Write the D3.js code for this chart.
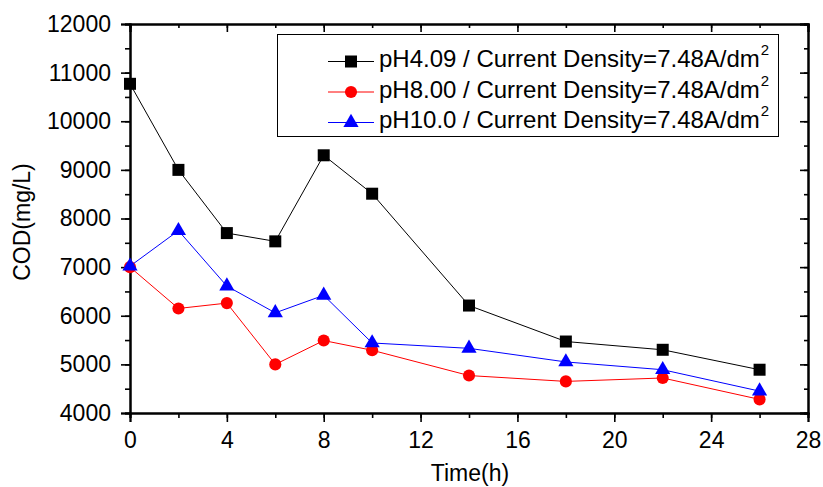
<!DOCTYPE html>
<html><head><meta charset="utf-8">
<script src="https://cdn.jsdelivr.net/npm/d3@7"></script>
<style>body{margin:0;background:#fff;} text{font-family:"Liberation Sans",Arial,sans-serif;}</style>
</head><body><svg id="c" width="823" height="487"></svg>
<script>
const time = [0, 2, 4, 6, 8, 10, 14, 18, 22, 26];
const codPH409 = [10770, 9000, 7700, 7530, 9300, 8510, 6210, 5470, 5300, 4890];
const codPH800 = [7000, 6150, 6260, 5000, 5490, 5290, 4770, 4650, 4720, 4280];
const codPH100 = [7020, 7750, 6610, 6060, 6420, 5440, 5330, 5050, 4890, 4450];
const seriesNames = ["pH4.09 / Current Density=7.48A/dm", "pH8.00 / Current Density=7.48A/dm", "pH10.0 / Current Density=7.48A/dm"];
const xTicks = [0, 4, 8, 12, 16, 20, 24, 28];
const yTicks = [4000, 5000, 6000, 7000, 8000, 9000, 10000, 11000, 12000];

const svg = d3.select("#c");
const x = d3.scaleLinear().domain([0, 28]).range([130, 808]);
const y = d3.scaleLinear().domain([4000, 12000]).range([413, 24]);
const FS = 23;
const LFS = 24;

const series = [
  {name: seriesNames[0], vals: codPH409, color: "#000000", shape: d3.symbolSquare, size: 144},
  {name: seriesNames[1], vals: codPH800, color: "#ff0000", shape: d3.symbolCircle, size: 115},
  {name: seriesNames[2], vals: codPH100, color: "#0000ff", shape: d3.symbolTriangle, size: 100}
];

function styleAxis(g){
  g.select(".domain").attr("stroke","#000").attr("stroke-width",2);
  g.selectAll(".tick line").attr("stroke","#000").attr("stroke-width",1.6);
  g.selectAll("text").attr("font-size",FS).attr("fill","#000").style("font-family","'Liberation Sans',Arial,sans-serif");
}
const xMinor = d3.range(0, 29, 2);
const yMinor = d3.range(4000, 12001, 500);

// minor ticks
svg.append("g").attr("transform","translate(0,413)").call(d3.axisBottom(x).tickValues(xMinor).tickSize(5).tickFormat("")).call(styleAxis);
svg.append("g").attr("transform","translate(130,0)").call(d3.axisLeft(y).tickValues(yMinor).tickSize(5).tickFormat("")).call(styleAxis);
svg.append("g").attr("transform","translate(0,24)").call(d3.axisBottom(x).tickValues(xMinor).tickSize(4).tickFormat("")).call(styleAxis);
svg.append("g").attr("transform","translate(808,0)").call(d3.axisLeft(y).tickValues(yMinor).tickSize(4).tickFormat("")).call(styleAxis);
// major ticks
svg.append("g").attr("transform","translate(0,413)").call(d3.axisBottom(x).tickValues(xTicks).tickSize(9).tickPadding(10).tickFormat(d3.format("d"))).call(styleAxis);
svg.append("g").attr("transform","translate(130,0)").call(d3.axisLeft(y).tickValues(yTicks).tickSize(9).tickPadding(10).tickFormat(d3.format("d"))).call(styleAxis);
svg.append("g").attr("transform","translate(0,24)").call(d3.axisBottom(x).tickValues(xTicks).tickSize(8).tickFormat("")).call(styleAxis);
svg.append("g").attr("transform","translate(808,0)").call(d3.axisLeft(y).tickValues(yTicks).tickSize(8).tickFormat("")).call(styleAxis);

// axis titles
svg.append("text").attr("x",470).attr("y",481).attr("text-anchor","middle").attr("font-size",FS).text("Time(h)");
svg.append("text").attr("transform","translate(30,222) rotate(-90)").attr("text-anchor","middle").attr("font-size",FS).text("COD(mg/L)");

// lines and markers
const line = d3.line().x((d,i)=>x(time[i])).y(d=>y(d));
series.forEach(s=>{
  svg.append("path").attr("d", line(s.vals)).attr("fill","none").attr("stroke",s.color).attr("stroke-width",1);
  svg.selectAll(null).data(s.vals).enter().append("path")
    .attr("d", d3.symbol().type(s.shape).size(s.size))
    .attr("transform",(d,i)=>`translate(${x(time[i])},${y(d)})`)
    .attr("fill", s.color);
});

// legend
svg.append("rect").attr("x",277.5).attr("y",34.5).attr("width",501).attr("height",102).attr("fill","#fff").attr("stroke","#000").attr("stroke-width",1);
series.forEach((s,i)=>{
  const cy = 61.5 + i*30.5;
  svg.append("line").attr("x1",328).attr("x2",374).attr("y1",cy).attr("y2",cy).attr("stroke",s.color).attr("stroke-width",1);
  svg.append("path").attr("d", d3.symbol().type(s.shape).size(s.size)).attr("transform",`translate(351,${cy})`).attr("fill",s.color);
  const t = svg.append("text").attr("x",379).attr("y",cy+5.5).attr("font-size",LFS);
  t.append("tspan").text(s.name);
  t.append("tspan").attr("font-size",15).attr("dx",1).attr("dy",-12).text("2");
});
</script></body></html>
